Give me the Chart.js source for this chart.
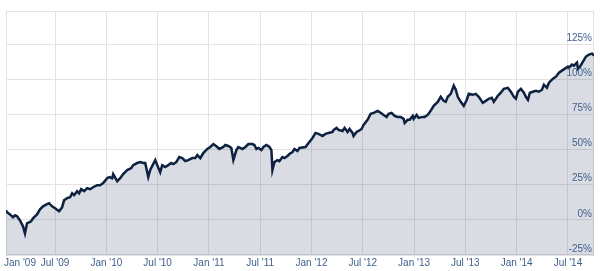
<!DOCTYPE html>
<html>
<head>
<meta charset="utf-8">
<script src="https://cdn.jsdelivr.net/npm/chart.js@4/dist/chart.umd.min.js"></script>
<style>
    html, body { margin: 0; padding: 0; background: #ffffff; }
</style>
</head>
<body>
<canvas id="myChart" width="600" height="271"></canvas>
<script>
// meses desde enero 2009 (posicion de cada punto)
const meses = [
    0.26, 0.38, 0.73, 1.08, 1.31, 1.55, 1.90, 2.25, 2.48, 2.72, 3.19, 3.42, 3.89, 4.24, 4.59, 5.06, 5.30, 5.65, 6.00, 6.47,
    6.82, 7.05, 7.41, 7.76, 7.99, 8.23, 8.58, 8.81, 9.05, 9.40, 9.75, 10.10, 10.45, 10.92, 11.27, 11.63, 12.09, 12.33, 12.68, 12.80,
    13.27, 13.62, 13.97, 14.44, 14.91, 15.14, 15.61, 15.96, 16.31, 16.55, 16.90, 17.13, 17.48, 17.72, 17.95, 18.30, 18.54, 18.89, 19.24, 19.59,
    19.83, 20.18, 20.53, 20.88, 21.23, 21.59, 22.05, 22.40, 22.64, 22.99, 23.34, 23.81, 24.16, 24.52, 24.98, 25.22, 25.69, 25.92, 26.27, 26.62,
    26.86, 27.21, 27.44, 27.91, 28.27, 28.62, 29.09, 29.32, 29.56, 29.79, 30.14, 30.38, 30.73, 31.08, 31.31, 31.43, 31.67, 32.02, 32.25, 32.60,
    32.84, 33.19, 33.42, 33.77, 34.00, 34.36, 34.59, 35.30, 35.65, 36.12, 36.47, 36.82, 37.29, 37.64, 37.99, 38.46, 38.58, 38.93, 39.16, 39.63,
    39.87, 40.22, 40.45, 40.80, 40.92, 41.27, 41.51, 41.86, 42.09, 42.56, 42.92, 43.27, 43.74, 44.09, 44.44, 44.79, 45.02, 45.37, 45.73, 46.08,
    46.43, 46.78, 46.90, 47.25, 47.48, 47.84, 47.95, 48.30, 48.54, 49.00, 49.24, 49.59, 49.94, 50.30, 50.77, 51.12, 51.47, 51.70, 51.94, 52.29,
    52.64, 52.88, 53.11, 53.46, 53.81, 54.17, 54.40, 54.87, 55.22, 55.57, 56.04, 56.39, 56.74, 57.09, 57.33, 57.80, 58.15, 58.50, 58.97, 59.32,
    59.67, 59.91, 60.14, 60.50, 60.85, 61.08, 61.32, 61.55, 61.90, 62.25, 62.60, 62.96, 63.19, 63.54, 63.78, 64.25, 64.60, 64.95, 65.30, 65.65,
    66.00, 66.12, 66.47, 66.70, 67.06, 67.17, 67.41, 67.76, 68.11, 68.46, 68.81, 69.05
];

// rendimiento acumulado en % para cada punto
const rendimientos = [
    6.8, 5.4, 3.9, 1.8, 3.2, 2.5, -0.4, -4.6, -9.6, -2.5, -1.1, 1.1, 3.9, 7.5, 9.6, 11.1, 11.8, 9.6, 8.2, 6.1,
    8.9, 13.9, 15.4, 16.1, 18.9, 17.5, 20.4, 18.9, 21.8, 20.4, 22.5, 21.8, 23.2, 24.6, 24.6, 26.1, 29.6, 30.4, 29.6, 32.5,
    27.5, 29.6, 32.5, 35.4, 36.8, 38.9, 40.4, 41.1, 40.4, 40.4, 30.4, 35.4, 39.6, 42.5, 38.9, 33.9, 38.9, 37.5, 38.9, 40.4,
    39.6, 41.1, 44.6, 43.9, 41.8, 42.5, 43.9, 43.9, 46.1, 43.9, 47.5, 50.4, 51.8, 53.9, 51.8, 50.4, 51.8, 53.2, 52.5, 51.1,
    42.5, 49.6, 51.8, 50.4, 51.8, 53.9, 53.9, 53.2, 50.4, 51.1, 49.6, 51.8, 53.2, 51.8, 49.6, 35.4, 41.1, 42.5, 41.8, 44.6,
    43.9, 45.4, 46.8, 48.2, 50.4, 48.9, 51.1, 51.8, 54.6, 58.2, 61.8, 61.1, 59.6, 61.1, 61.8, 62.5, 63.9, 65.4, 63.9, 63.2,
    65.4, 62.5, 64.6, 61.8, 59.6, 62.5, 63.2, 64.6, 67.5, 71.1, 75.4, 76.1, 77.5, 76.1, 74.6, 73.2, 75.4, 76.1, 73.9, 73.2,
    73.2, 71.8, 68.9, 71.1, 71.1, 73.9, 71.8, 74.6, 72.5, 73.2, 73.2, 74.6, 77.5, 81.1, 83.9, 87.5, 84.6, 83.9, 87.5, 89.6,
    95.4, 92.5, 87.5, 83.9, 81.1, 85.4, 89.6, 88.9, 89.6, 87.5, 83.2, 84.6, 86.1, 86.8, 83.9, 88.2, 90.4, 93.2, 93.9, 91.1,
    87.5, 86.1, 91.1, 93.2, 90.4, 87.5, 85.4, 90.4, 91.1, 91.8, 91.1, 92.5, 96.1, 93.9, 97.5, 100.4, 101.8, 104.6, 106.1, 107.5,
    108.9, 108.2, 110.4, 109.6, 111.8, 107.5, 108.9, 112.5, 116.1, 117.5, 118.2, 116.8
];

// etiquetas del eje x (la primera va corrida hacia dentro como en el original)
const mesesEtiquetas = [1.9, 6, 12, 18, 24, 30, 36, 42, 48, 54, 60, 66];
const etiquetasX = ["Jan '09", "Jul '09", "Jan '10", "Jul '10", "Jan '11", "Jul '11",
    "Jan '12", "Jul '12", "Jan '13", "Jul '13", "Jan '14", "Jul '14"];

// marcas del eje y
const marcasY = [-25, 0, 25, 50, 75, 100, 125];

const colorTexto = "#3f5f8c";
const colorGrilla = "#e3e3e3";

function dataParaElGrafico() {
    // armamos los puntos x/y
    const puntos = meses.map((mes, i) => {
        return { x: mes, y: rendimientos[i] };
    });

    const datasets = [
        {
            data: puntos,
            borderColor: "#0e2140",
            borderWidth: 2.5,
            // relleno semitransparente para que se vea la grilla debajo
            backgroundColor: "rgba(65, 85, 115, 0.2)",
            fill: "start",
            pointRadius: 0,
            tension: 0
        }
    ];

    return { datasets };
}

// dibuja el borde del area del grafico
const pluginBorde = {
    id: "borde",
    beforeDatasetsDraw(chart) {
        const area = chart.chartArea;
        const ctx = chart.ctx;
        ctx.save();
        ctx.strokeStyle = colorGrilla;
        ctx.lineWidth = 1;
        ctx.strokeRect(area.left + 0.5, area.top + 0.5, area.right - area.left - 1, area.bottom - area.top - 1);
        ctx.restore();
    }
};

function cargarGrafico() {
    const config = {
        type: "line",
        data: dataParaElGrafico(),
        options: {
            responsive: false,
            animation: false,
            devicePixelRatio: 1,
            layout: { padding: { left: 6, right: 6, top: 11, bottom: 0 } },
            plugins: { legend: { display: false }, tooltip: { enabled: false } },
            scales: {
                x: {
                    type: "linear",
                    min: meses[0],
                    max: meses[meses.length - 1],
                    afterBuildTicks: (eje) => {
                        eje.ticks = mesesEtiquetas.map((valor) => ({ value: valor }));
                    },
                    grid: {
                        color: (ctx) => (ctx.index === 0 ? "rgba(0,0,0,0)" : colorGrilla),
                        drawTicks: false
                    },
                    border: { display: false },
                    ticks: {
                        autoSkip: false,
                        maxRotation: 0,
                        padding: 2,
                        color: colorTexto,
                        font: { family: "Liberation Sans, Arial, sans-serif", size: 10 },
                        callback: (valor, indice) => etiquetasX[indice]
                    }
                },
                y: {
                    position: "right",
                    min: -25,
                    max: 148.5,
                    afterBuildTicks: (eje) => {
                        eje.ticks = marcasY.map((valor) => ({ value: valor }));
                    },
                    grid: { color: colorGrilla, drawTicks: false },
                    border: { display: false },
                    ticks: {
                        // las etiquetas van encima del relleno
                        z: 1,
                        mirror: true,
                        padding: -2,
                        labelOffset: -6,
                        color: colorTexto,
                        font: { family: "Liberation Sans, Arial, sans-serif", size: 10 },
                        callback: (valor) => valor + "%"
                    }
                }
            }
        },
        plugins: [pluginBorde]
    };

    const myChart = document.getElementById("myChart");
    new Chart(myChart, config);
}

cargarGrafico();
</script>
</body>
</html>
